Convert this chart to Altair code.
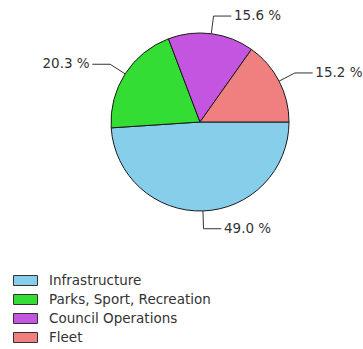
import altair as alt
import pandas as pd
import numpy as np

categories = ["Infrastructure", "Parks, Sport, Recreation", "Council Operations", "Fleet"]
shares = [49.0, 20.3, 15.6, 15.2]
colors = ["#87CEEB", "#33DD33", "#C455E0", "#F08080"]

W, H = 363, 349
CX, CY, R = 200, 122, 89
FONT = "DejaVu Sans"

df = pd.DataFrame({"category": categories, "share": shares, "order": list(range(len(shares)))})

total = sum(shares)
vals = np.array(shares)
cum = np.concatenate([[0], np.cumsum(vals)[:-1]])
mid = np.pi / 2 + 2 * np.pi * (cum + vals / 2) / total
s, c = np.sin(mid), np.cos(mid)
sign = np.where(s >= 0, 1, -1)

line_rows = []
for i, cat in enumerate(categories):
    pts = [(s[i], c[i]), (1.2 * s[i], 1.2 * c[i]), (1.2 * s[i] + sign[i] * 0.2, 1.2 * c[i])]
    for k, (x, y) in enumerate(pts):
        line_rows.append({"category": cat, "k": k, "x": x, "y": y})
lines_df = pd.DataFrame(line_rows)

labels_df = pd.DataFrame({
    "category": categories,
    "label": [f"{v:.1f} %" for v in shares],
    "x": 1.2 * s + sign * 0.23,
    "y": 1.2 * c,
    "side": ["right" if v > 0 else "left" for v in sign],
})

xscale = alt.Scale(domain=[-CX / R, (W - CX) / R], nice=False, zero=False)
yscale = alt.Scale(domain=[-(H - CY) / R, CY / R], nice=False, zero=False)

rect_path = "M-1.2,-0.5H1.2V0.5H-1.2Z"

pie = alt.Chart(df).mark_arc(outerRadius=R, stroke="#1a1a1a", strokeWidth=1).encode(
    theta=alt.Theta("share:Q", stack=True,
                    scale=alt.Scale(range=[np.pi / 2, np.pi / 2 + 2 * np.pi])),
    color=alt.Color("category:N", sort=categories,
                    scale=alt.Scale(domain=categories, range=colors),
                    legend=alt.Legend(orient="none", legendX=15, legendY=270, title=None,
                                      symbolType=rect_path, symbolSize=400,
                                      symbolStrokeColor="#333", symbolStrokeWidth=1,
                                      labelFont=FONT, labelFontSize=13.5, labelColor="#333",
                                      labelLimit=400,
                                      labelOffset=13, rowPadding=1, padding=0)),
    order=alt.Order("order:Q"),
    x=alt.value(CX),
    y=alt.value(CY),
)

leaders = alt.Chart(lines_df).mark_line(color="#333", strokeWidth=1).encode(
    x=alt.X("x:Q", scale=xscale, axis=None),
    y=alt.Y("y:Q", scale=yscale, axis=None),
    detail="category:N",
    order="k:Q",
)

text_right = alt.Chart(labels_df).transform_filter(alt.datum.side == "right").mark_text(
    align="left", baseline="middle", font=FONT, fontSize=13.5, color="#333"
).encode(x=alt.X("x:Q", scale=xscale, axis=None), y=alt.Y("y:Q", scale=yscale, axis=None), text="label:N")

text_left = alt.Chart(labels_df).transform_filter(alt.datum.side == "left").mark_text(
    align="right", baseline="middle", font=FONT, fontSize=13.5, color="#333"
).encode(x=alt.X("x:Q", scale=xscale, axis=None), y=alt.Y("y:Q", scale=yscale, axis=None), text="label:N")

chart = alt.layer(pie, leaders, text_right, text_left).properties(
    width=W, height=H, autosize=alt.AutoSizeParams(type="none"), padding=0, background="white"
).configure_view(stroke=None)

chart.save("out.html", embed_options={"renderer": "svg", "actions": False})
